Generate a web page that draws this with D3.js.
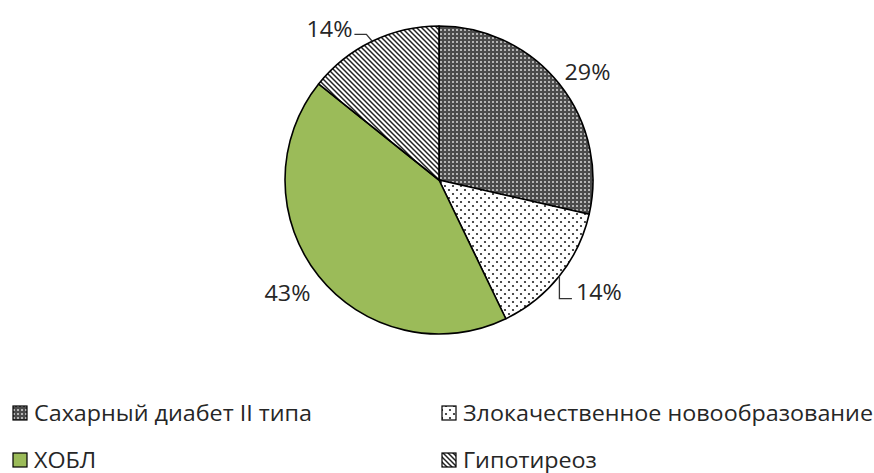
<!DOCTYPE html>
<html><head><meta charset="utf-8">
<script src="https://cdn.jsdelivr.net/npm/d3@7"></script>
<style>
html,body{margin:0;padding:0;background:#fff;}
svg{display:block;}
text{font-family:"Open Sans","Noto Sans",sans-serif;fill:#262626;}
</style></head>
<body>
<svg id="chart" width="874" height="473"></svg>
<script>
const categories = ["Сахарный диабет II типа","Злокачественное новообразование","ХОБЛ","Гипотиреоз"];
const values = [2, 1, 3, 1];
const percentLabels = ["29%","14%","43%","14%"];
const fills = ["url(#pGrid)","url(#pDots)","#9bbb59","url(#pDiag)"];
const legendOrder = [0,1,2,3];

const svg = d3.select("#chart");
const defs = svg.append("defs");
const stretch = 1.11;
function widen(t){
  const w = t.node().getComputedTextLength();
  t.attr("textLength", w*stretch).attr("lengthAdjust","spacingAndGlyphs");
  return t;
}

// grid pattern (dark checker)
const pg = defs.append("pattern").attr("id","pGrid").attr("patternUnits","userSpaceOnUse").attr("width",4).attr("height",4);
pg.append("rect").attr("width",4).attr("height",4).attr("fill","#4b4b4b");
pg.append("rect").attr("x",1).attr("y",1).attr("width",2).attr("height",2).attr("fill","#b4b4b4");

// dotted pattern
const pd = defs.append("pattern").attr("id","pDots").attr("patternUnits","userSpaceOnUse").attr("width",8).attr("height",8);
pd.append("rect").attr("width",8).attr("height",8).attr("fill","#fff");
pd.append("circle").attr("cx",2).attr("cy",2).attr("r",1.1).attr("fill","#222");
pd.append("circle").attr("cx",6).attr("cy",6).attr("r",1.1).attr("fill","#222");

// diagonal stripes "\"
const ps = defs.append("pattern").attr("id","pDiag").attr("patternUnits","userSpaceOnUse").attr("width",5).attr("height",5);
ps.append("rect").attr("width",5).attr("height",5).attr("fill","#fff");
ps.append("path").attr("d","M-1,-1 L6,6 M-1,4 L1,6 M4,-1 L6,1").attr("stroke","#222").attr("stroke-width",1.5);

const cx = 439, cy = 180, R = 154;
const pie = d3.pie().sort(null).value(d => d)(values);
const arc = d3.arc().innerRadius(0).outerRadius(R);

const g = svg.append("g").attr("transform",`translate(${cx},${cy})`);
g.selectAll("path.slice").data(pie).join("path")
  .attr("class","slice")
  .attr("d",arc)
  .attr("fill",(d,i)=>fills[i])
  .attr("stroke","#000").attr("stroke-width",1.6).attr("stroke-linejoin","round");

// label layout: angle shift (deg) and radius factor
const labelLayout = [[2.7,1.19],[-3.4,1.27],[1.7,1.23],[-10.3,1.21]];
const pt = (ang, r) => [r*Math.sin(ang), -r*Math.cos(ang)];

pie.forEach((d,i)=>{
  const mid = (d.startAngle + d.endAngle)/2;
  const [sh, rf] = labelLayout[i];
  const [lx, ly] = pt(mid + sh*Math.PI/180, R*rf);
  const t = g.append("text").attr("x",lx).attr("y",ly).attr("dy","0.35em")
    .attr("text-anchor","middle").attr("font-size",21).text(percentLabels[i]);
  widen(t);
  const [ax, ay] = pt(mid, R);
  if (i === 1) {
    const bb = t.node().getBBox();
    g.append("path").attr("fill","none").attr("stroke","#333").attr("stroke-width",1.3)
      .attr("d",`M${ax},${ay} L${ax},${ly+6} L${bb.x-4},${ly+6}`);
  }
  if (i === 3) {
    const bb = t.node().getBBox();
    g.append("path").attr("fill","none").attr("stroke","#333").attr("stroke-width",1.3)
      .attr("d",`M${bb.x+bb.width+2},${ly+5} L${bb.x+bb.width+14},${ly+5} L${ax},${ay}`);
  }
});

// legend
const legX = [13, 442], legY = [413, 460];
const leg = svg.append("g");
legendOrder.forEach((ci,k)=>{
  const col = k % 2, row = Math.floor(k/2);
  const x = legX[col], y = legY[row];
  leg.append("rect").attr("x",x).attr("y",y-7).attr("width",14).attr("height",14)
    .attr("fill",fills[ci]).attr("stroke","#000").attr("stroke-width",1.2);
  const t = leg.append("text").attr("x",x+21).attr("y",y).attr("dy","0.36em")
    .attr("font-size",21).text(categories[ci]);
  widen(t);
});
</script>
</body></html>
